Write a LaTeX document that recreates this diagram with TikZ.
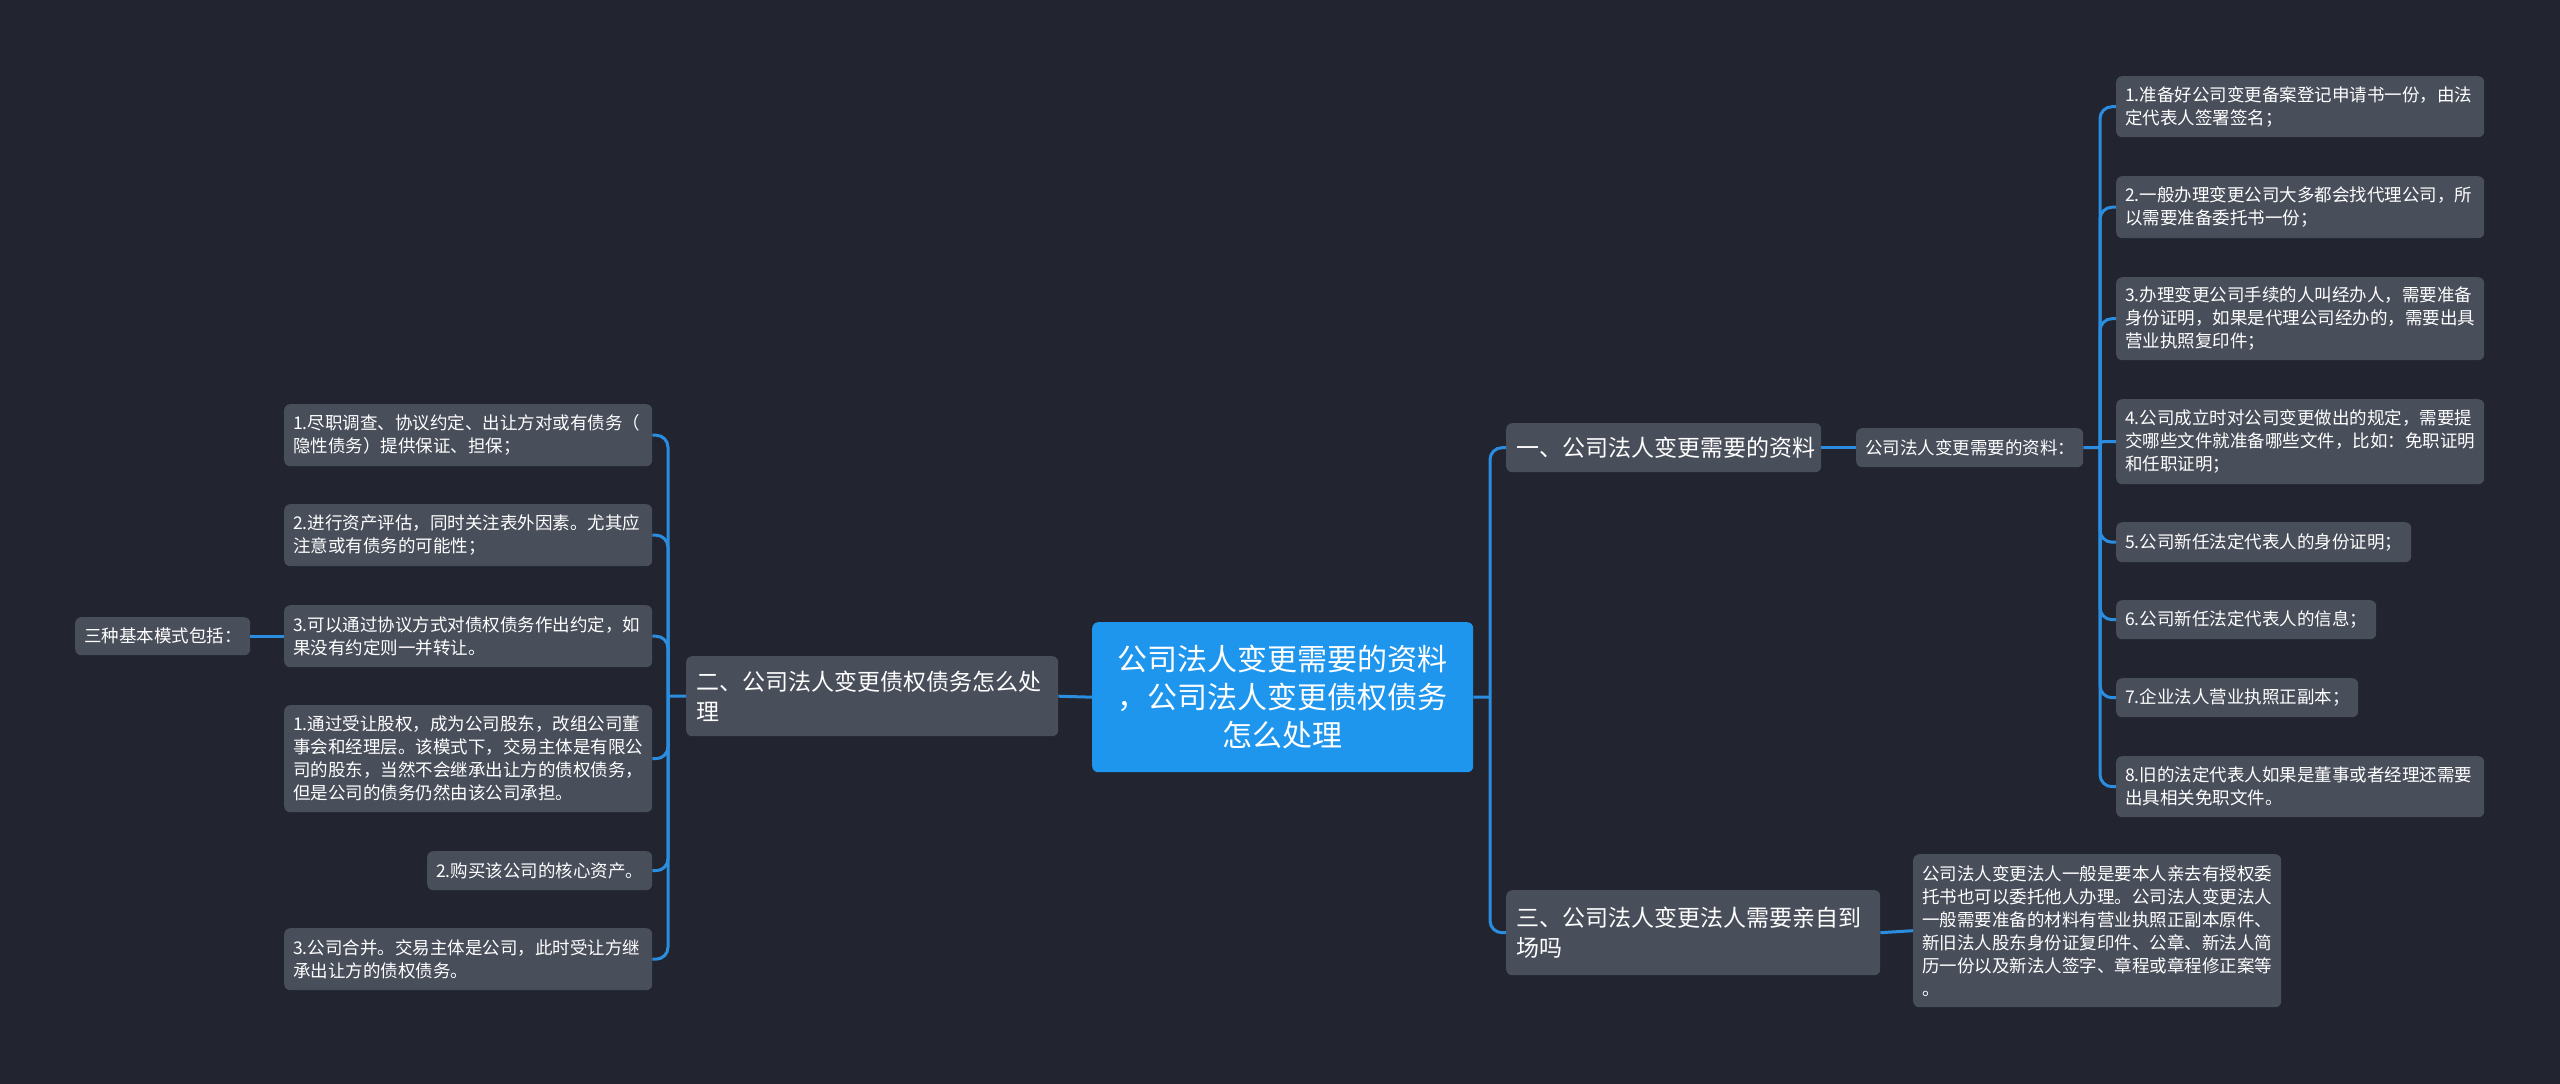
\documentclass[tikz,border=0pt]{standalone}
\usepackage{fontspec}
\setmainfont{Noto Sans CJK SC}
\definecolor{bgdark}{HTML}{22252F}
\definecolor{boxgray}{HTML}{494E5B}
\definecolor{rootblue}{HTML}{1E96EE}
\definecolor{linkblue}{HTML}{2A8DE0}
\begin{document}
\begin{tikzpicture}[x=1pt, y=-1pt,
  box/.style={fill=boxgray, rounded corners=6, text=white, align=left, anchor=north west, inner xsep=9, inner ysep=0},
  item/.style={box, font=\fontsize{17.5}{23}\selectfont},
  branch/.style={box, inner xsep=10, font=\fontsize{23}{30}\selectfont},
  root/.style={box, fill=rootblue, align=center, font=\fontsize{30}{38}\selectfont},
  link/.style={draw=linkblue, line width=3, rounded corners=12}]
  \fill[bgdark] (0,0) rectangle (2560,1084);
  \useasboundingbox (0,0) rectangle (2560,1084);

  \node[root, minimum width=381, minimum height=150] (root) at (1092,622) {公司法人变更需要的资料\\，公司法人变更债权债务\\怎么处理};

  \node[branch, text width=295, minimum height=49] (b1) at (1506,423) {一、公司法人变更需要的资料};
  \node[item, text width=209, minimum height=39] (sub1) at (1856,428) {公司法人变更需要的资料：};
  \node[item, text width=350, minimum height=61] (r1) at (2116,76) {1.准备好公司变更备案登记申请书一份，由法\\定代表人签署签名；};
  \node[item, text width=350, minimum height=62] (r2) at (2116,176) {2.一般办理变更公司大多都会找代理公司，所\\以需要准备委托书一份；};
  \node[item, text width=350, minimum height=83] (r3) at (2116,277) {3.办理变更公司手续的人叫经办人，需要准备\\身份证明，如果是代理公司经办的，需要出具\\营业执照复印件；};
  \node[item, text width=350, minimum height=85] (r4) at (2116,399) {4.公司成立时对公司变更做出的规定，需要提\\交哪些文件就准备哪些文件，比如：免职证明\\和任职证明；};
  \node[item, text width=277, minimum height=40] (r5) at (2116,522) {5.公司新任法定代表人的身份证明；};
  \node[item, text width=242, minimum height=39] (r6) at (2116,600) {6.公司新任法定代表人的信息；};
  \node[item, text width=224, minimum height=39] (r7) at (2116,678) {7.企业法人营业执照正副本；};
  \node[item, text width=350, minimum height=61] (r8) at (2116,756) {8.旧的法定代表人如果是董事或者经理还需要\\出具相关免职文件。};

  \node[branch, text width=354, minimum height=85] (b3) at (1506,890) {三、公司法人变更法人需要亲自到\\场吗};
  \node[item, text width=350, minimum height=153] (det) at (1913,854) {公司法人变更法人一般是要本人亲去有授权委\\托书也可以委托他人办理。公司法人变更法人\\一般需要准备的材料有营业执照正副本原件、\\新旧法人股东身份证复印件、公章、新法人简\\历一份以及新法人签字、章程或章程修正案等\\。};

  \node[branch, text width=352, minimum height=80] (b2) at (686,656) {二、公司法人变更债权债务怎么处\\理};
  \node[item, text width=350, minimum height=62] (l1) at (284,404) {1.尽职调查、协议约定、出让方对或有债务（\\隐性债务）提供保证、担保；};
  \node[item, text width=350, minimum height=62] (l2) at (284,504) {2.进行资产评估，同时关注表外因素。尤其应\\注意或有债务的可能性；};
  \node[item, text width=350, minimum height=62] (l3) at (284,605) {3.可以通过协议方式对债权债务作出约定，如\\果没有约定则一并转让。};
  \node[item, text width=157, minimum height=38] (three) at (75,617) {三种基本模式包括：};
  \node[item, text width=350, minimum height=107] (m1) at (284,705) {1.通过受让股权，成为公司股东，改组公司董\\事会和经理层。该模式下，交易主体是有限公\\司的股东，当然不会继承出让方的债权债务，\\但是公司的债务仍然由该公司承担。};
  \node[item, text width=207, minimum height=39] (m2) at (427,851) {2.购买该公司的核心资产。};
  \node[item, text width=350, minimum height=62] (m3) at (284,928) {3.公司合并。交易主体是公司，此时受让方继\\承出让方的债权债务。};

  \coordinate (mj) at (1490,697);
  \coordinate (rj) at (2100,447.5);
  \coordinate (lj) at (668,696);

  \draw[link] (root.east) -- (mj);
  \draw[link] (mj) |- (b1.west);
  \draw[link] (mj) |- (b3.west);
  \draw[link] (root.west) -- (b2.east);
  \draw[link] (b1.east) -- (sub1.west);
  \draw[link] (sub1.east) -- (rj);
  \foreach \n in {r1,r2,r3,r5,r6,r7,r8}
    \draw[link] (rj) |- (\n.west);
  \draw[link, rounded corners=3] (rj) |- (r4.west);
  \draw[link] (b3.east) -- (det.west);
  \draw[link] (b2.west) -- (lj);
  \foreach \n in {l1,l2,l3,m1,m2,m3}
    \draw[link] (lj) |- (\n.east);
  \draw[link] (three.east) -- (l3.west);
\end{tikzpicture}
\end{document}
